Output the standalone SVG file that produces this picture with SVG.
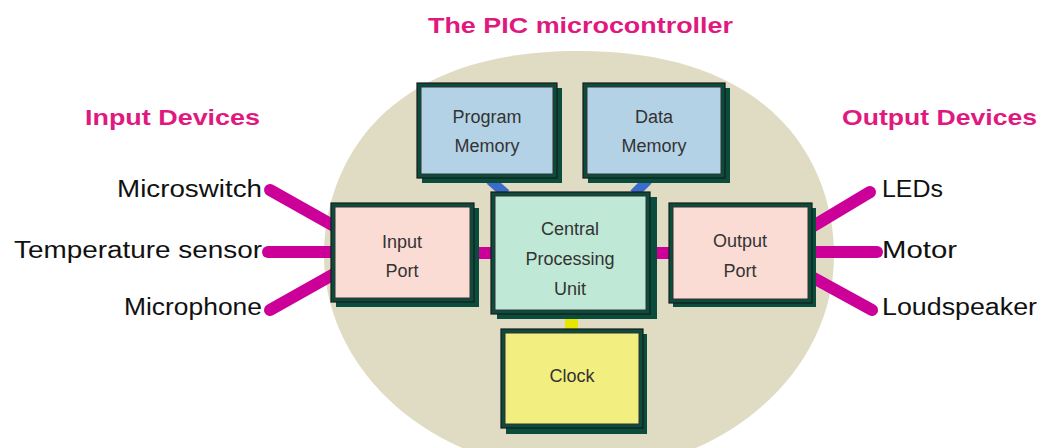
<svg xmlns="http://www.w3.org/2000/svg" width="1056" height="448" viewBox="0 0 1056 448">
<style>
.title{font-family:"Liberation Sans",Arial,sans-serif;font-weight:bold;font-size:22px;fill:#e0197f}
.dev{font-family:"Liberation Sans",Arial,sans-serif;font-size:23px;fill:#111}
.lbl{font-family:"Liberation Sans",Arial,sans-serif;font-size:18px;fill:#333;text-anchor:middle}
.shadow{fill:#0b4d3d}
.frame{fill:#0b4d3d;stroke:#1a1a1a;stroke-width:1.2}
.inner{stroke:#333;stroke-width:1}
.mag{stroke:#cc0099;stroke-width:12;stroke-linecap:round;fill:none}
.blue{stroke:#3a6ccc;stroke-width:10;fill:none}
</style>
<rect width="1056" height="448" fill="#ffffff"/>
<path d="M579,51 C783,51 834,173 834,255 C834,375 720,472 579,472 C438,472 324,375 324,255 C324,173 375,51 579,51 Z" fill="#e0dcc4"/>
<text class="title" x="428" y="33" textLength="305" lengthAdjust="spacingAndGlyphs">The PIC microcontroller</text>
<text class="title" x="85" y="125" textLength="175" lengthAdjust="spacingAndGlyphs">Input Devices</text>
<text class="title" x="842" y="125" textLength="195" lengthAdjust="spacingAndGlyphs">Output Devices</text>
<g id="connectors">
<line class="mag" x1="270" y1="190" x2="334" y2="226"/>
<line class="mag" x1="268" y1="252" x2="334" y2="252"/>
<line class="mag" x1="270" y1="310" x2="334" y2="274"/>
<line x1="474" y1="253" x2="492" y2="253" stroke="#cc0099" stroke-width="12"/>
<line x1="650" y1="253" x2="670" y2="253" stroke="#cc0099" stroke-width="12"/>
<line class="mag" x1="810" y1="228" x2="870" y2="192"/>
<line class="mag" x1="810" y1="252" x2="877" y2="252"/>
<line class="mag" x1="810" y1="276" x2="872" y2="310"/>
<line class="blue" x1="490" y1="180" x2="506" y2="194"/>
<line class="blue" x1="648" y1="180" x2="634" y2="194"/>
<rect x="565" y="318" width="13" height="12" fill="#e6e600"/>
</g>
<g id="program-memory">
<rect class="shadow" x="422" y="88" width="140" height="95"/>
<rect class="frame" x="417" y="83" width="140" height="95"/>
<rect class="inner" x="421" y="87" width="132" height="87" fill="#b4d2e6"/>
<text class="lbl" x="487" y="123">Program</text>
<text class="lbl" x="487" y="152">Memory</text>
</g>
<g id="data-memory">
<rect class="shadow" x="588" y="88" width="142" height="95"/>
<rect class="frame" x="583" y="83" width="142" height="95"/>
<rect class="inner" x="587" y="87" width="134" height="87" fill="#b4d2e6"/>
<text class="lbl" x="654" y="123">Data</text>
<text class="lbl" x="654" y="152">Memory</text>
</g>
<g id="input-port">
<rect class="shadow" x="336" y="208" width="143" height="99"/>
<rect class="frame" x="331" y="203" width="143" height="99"/>
<rect class="inner" x="335" y="207" width="135" height="91" fill="#fadcd4"/>
<text class="lbl" x="402" y="248">Input</text>
<text class="lbl" x="402" y="277">Port</text>
</g>
<g id="cpu">
<rect class="shadow" x="497" y="197" width="160" height="122"/>
<rect class="frame" x="491" y="192" width="159" height="122"/>
<rect class="inner" x="495" y="196" width="151" height="114" fill="#bfe9d6"/>
<text class="lbl" x="570" y="235">Central</text>
<text class="lbl" x="570" y="265">Processing</text>
<text class="lbl" x="570" y="295">Unit</text>
</g>
<g id="output-port">
<rect class="shadow" x="673" y="208" width="143" height="99"/>
<rect class="frame" x="669" y="203" width="143" height="100"/>
<rect class="inner" x="673" y="207" width="135" height="92" fill="#fadcd4"/>
<text class="lbl" x="740" y="247">Output</text>
<text class="lbl" x="740" y="277">Port</text>
</g>
<g id="clock">
<rect class="shadow" x="506" y="334" width="141" height="100"/>
<rect class="frame" x="501" y="329" width="142" height="99"/>
<rect class="inner" x="505" y="333" width="134" height="91" fill="#f2ee80"/>
<text class="lbl" x="572" y="382">Clock</text>
</g>
<g id="input-devices">
<text class="dev" x="262" y="197" text-anchor="end" textLength="145" lengthAdjust="spacingAndGlyphs">Microswitch</text>
<text class="dev" x="262" y="258" text-anchor="end" textLength="248" lengthAdjust="spacingAndGlyphs">Temperature sensor</text>
<text class="dev" x="262" y="315" text-anchor="end" textLength="138" lengthAdjust="spacingAndGlyphs">Microphone</text>
</g>
<g id="output-devices">
<text class="dev" x="882" y="197" textLength="61" lengthAdjust="spacingAndGlyphs">LEDs</text>
<text class="dev" x="882" y="258" textLength="75" lengthAdjust="spacingAndGlyphs">Motor</text>
<text class="dev" x="882" y="315" textLength="155" lengthAdjust="spacingAndGlyphs">Loudspeaker</text>
</g>
</svg>
